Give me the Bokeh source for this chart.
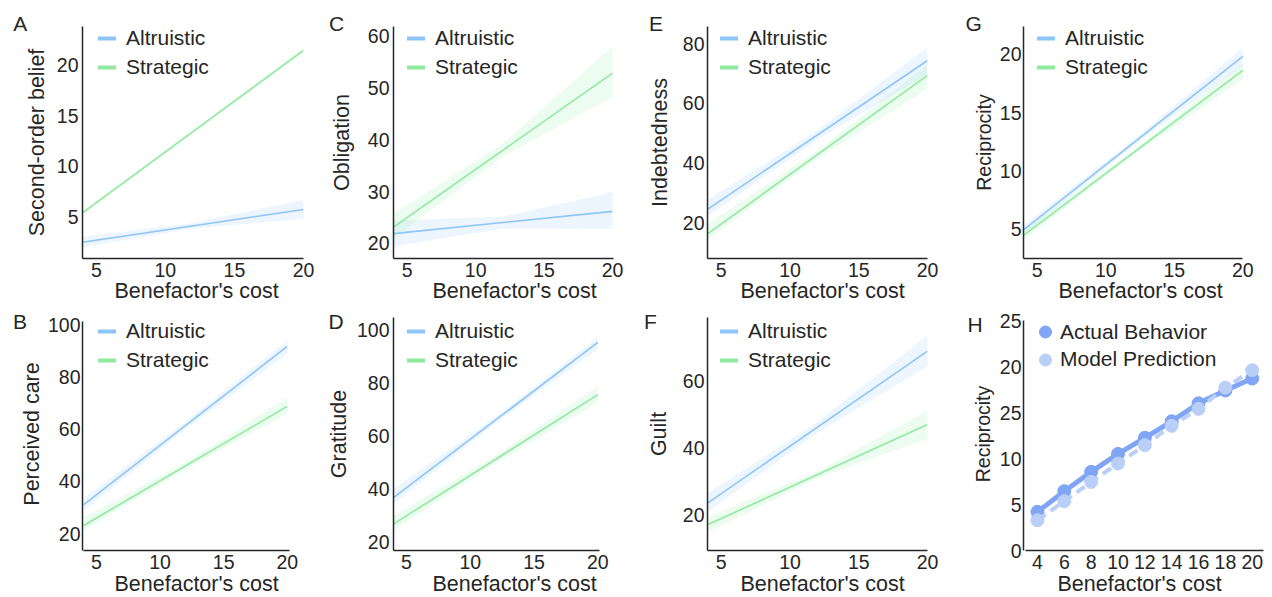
from math import pi
from bokeh.plotting import figure
from bokeh.layouts import row, column
from bokeh.models import Legend, LegendItem, FixedTicker, Range1d, Title
from bokeh.embed import file_html
from bokeh.resources import INLINE

FONT = "Liberation Sans"
TXT = "#262626"
ALT_C = "#8ec4f8"
STR_C = "#8fea9f"
ACT_C = "#7fa5f4"
MOD_C = "#b9cff7"
NAN = float("nan")

# ---------------- data ----------------
conditions = ["Altruistic", "Strategic"]
cost_line = [4, 20]
cost_band = [4, 12, 20]

# A  Second-order belief
belief_alt = [2.45, 5.70]
belief_alt_lo = [1.95, 3.80, 4.77]
belief_alt_hi = [3.00, 4.35, 6.66]
belief_str = [5.37, 21.50]
belief_str_lo = [5.20, 13.33, 21.30]
belief_str_hi = [5.55, 13.55, 21.72]

# C  Obligation
obl_alt = [21.9, 26.2]
obl_alt_lo = [19.4, 22.9, 22.8]
obl_alt_hi = [24.4, 25.2, 29.9]
obl_str = [23.15, 52.9]
obl_str_lo = [21.0, 36.8, 48.3]
obl_str_hi = [25.8, 39.3, 58.1]

# E  Indebtedness
ind_alt = [24.5, 74.4]
ind_alt_lo = [22.1, 47.9, 69.7]
ind_alt_hi = [27.7, 51.0, 78.9]
ind_str = [16.3, 69.4]
ind_str_lo = [14.3, 41.5, 64.9]
ind_str_hi = [19.7, 44.2, 73.1]

# G  Reciprocity
rec_alt = [4.97, 19.83]
rec_alt_lo = [4.57, 12.15, 19.06]
rec_alt_hi = [5.37, 12.65, 20.60]
rec_str = [4.49, 18.63]
rec_str_lo = [4.10, 11.33, 17.90]
rec_str_hi = [4.90, 11.80, 19.25]

# B  Perceived care
care_alt = [31.2, 91.6]
care_alt_lo = [28.8, 60.0, 88.8]
care_alt_hi = [33.7, 62.8, 93.9]
care_str = [23.2, 68.7]
care_str_lo = [21.3, 44.7, 66.0]
care_str_hi = [26.3, 47.2, 72.1]

# D  Gratitude
grat_alt = [36.9, 95.3]
grat_alt_lo = [34.5, 64.9, 92.8]
grat_alt_hi = [40.1, 67.3, 97.2]
grat_str = [26.9, 75.6]
grat_str_lo = [24.4, 49.9, 72.7]
grat_str_hi = [30.1, 52.6, 79.0]

# F  Guilt
guilt_alt = [23.5, 69.1]
guilt_alt_lo = [20.8, 44.7, 64.5]
guilt_alt_hi = [26.3, 47.9, 73.8]
guilt_str = [17.0, 47.1]
guilt_str_lo = [14.8, 31.0, 42.8]
guilt_str_hi = [19.3, 33.1, 51.3]

# H  Actual behaviour vs model prediction
h_cost = [4, 6, 8, 10, 12, 14, 16, 18, 20]
actual = [4.2, 6.45, 8.55, 10.5, 12.25, 14.05, 16.0, 17.4, 18.7]
actual_err = [0.5, 0.5, 0.5, 0.55, 0.55, 0.55, 0.6, 0.6, 0.65]
model = [3.3, 5.36, 7.46, 9.46, 11.45, 13.55, 15.4, 17.7, 19.6]
model_err = [0.4, 0.4, 0.45, 0.45, 0.45, 0.5, 0.5, 0.5, 0.55]
h_series = ["Actual Behavior", "Model Prediction"]

# ticks
ticks_cost = [5, 10, 15, 20]
ticks_belief = [5, 10, 15, 20]
ticks_obl = [20, 30, 40, 50, 60]
ticks_ind = [20, 40, 60, 80]
ticks_rec = [5, 10, 15, 20]
ticks_care = [20, 40, 60, 80, 100]
ticks_grat = [20, 40, 60, 80, 100]
ticks_guilt = [20, 40, 60]
ticks_h_x = [4, 6, 8, 10, 12, 14, 16, 18, 20]
ticks_h_y = [0, 5, 10, 15, 20, 25]
h_y_overrides = {15: "25"}

# ---------------- layout (page pixels) ----------------
# columns: (x0, width, frame_left, frame_right)
COLS = [(0, 316, 82, 303), (316, 318, 393, 613), (634, 316, 707, 927), (950, 322, 1023, 1263)]
# rows: (y0, height, frame_top, frame_bottom, xlabel standoff)
ROWS = [(0, 305, 26, 258, -2), (305, 292, 317, 550, 0)]


def make_fig(ci, ri, xr, yr, xticks, yticks, xbounds, ybounds, ystand, ylabel,
             ylabel_size, ylabel_stand):
    x0, w, fl, fr = COLS[ci]
    y0, h, ft, fb, _ = ROWS[ri]
    p = figure(width=w, height=h, x_range=Range1d(*xr), y_range=Range1d(*yr),
               min_border_left=fl - x0, min_border_right=x0 + w - fr,
               min_border_top=ft - y0, min_border_bottom=y0 + h - fb,
               output_backend="svg", toolbar_location=None)
    p.outline_line_color = None
    p.grid.visible = False
    for ax in (p.xaxis[0], p.yaxis[0]):
        ax.axis_line_color = TXT
        ax.axis_line_width = 1.5
        ax.major_tick_line_color = None
        ax.minor_tick_line_color = None
        ax.major_tick_out = 0
        ax.major_tick_in = 0
        ax.minor_tick_out = 0
        ax.minor_tick_in = 0
        ax.major_label_text_font = FONT
        ax.major_label_text_font_size = "19.5px"
        ax.major_label_text_color = TXT
    p.xaxis[0].major_label_standoff = 4
    p.yaxis[0].major_label_standoff = ystand
    p.xaxis[0].ticker = FixedTicker(ticks=xticks)
    p.yaxis[0].ticker = FixedTicker(ticks=yticks)
    p.xaxis[0].bounds = xbounds
    p.yaxis[0].bounds = ybounds
    yax = p.yaxis[0]
    yax.axis_label = ylabel
    yax.axis_label_text_font = FONT
    yax.axis_label_text_font_size = ylabel_size
    yax.axis_label_text_font_style = "normal"
    yax.axis_label_text_color = TXT
    yax.axis_label_standoff = ylabel_stand
    return p


def add_letter(p, letter, offset, standoff):
    p.add_layout(Title(text=letter, align="left", offset=offset, standoff=standoff,
                       vertical_align="bottom", text_font=FONT, text_font_size="21px",
                       text_font_style="normal", text_color=TXT), "above")


def add_xlabel(p, ri, offset):
    p.add_layout(Title(text="Benefactor's cost", align="left", offset=offset,
                       standoff=ROWS[ri][4], vertical_align="top", text_font=FONT,
                       text_font_size="21.5px", text_font_style="normal",
                       text_color=TXT), "below")


def reg_panel(ci, ri, xr, yr, yticks, xbounds, ybounds, ystand,
              alt, alt_lo, alt_hi, st, st_lo, st_hi,
              letter, letter_off, letter_stand, ylabel, ylabel_size, ylabel_stand,
              xlabel_off, leg_dx, leg_top):
    p = make_fig(ci, ri, xr, yr, ticks_cost, yticks, xbounds, ybounds, ystand,
                 ylabel, ylabel_size, ylabel_stand)
    p.varea(x=cost_band, y1=alt_lo, y2=alt_hi, fill_color=ALT_C, fill_alpha=0.16)
    p.line(x=cost_line, y=alt, line_color=ALT_C, line_width=1.6)
    p.varea(x=cost_band, y1=st_lo, y2=st_hi, fill_color=STR_C, fill_alpha=0.16)
    p.line(x=cost_line, y=st, line_color=STR_C, line_width=1.6)
    # legend proxies (thicker lines, like the reference legend); NaN draws nothing
    g1 = p.line(x=[NAN], y=[NAN], line_color=ALT_C, line_width=4, line_cap="round")
    g2 = p.line(x=[NAN], y=[NAN], line_color=STR_C, line_width=4, line_cap="round")
    fh = ROWS[ri][3] - ROWS[ri][2]
    leg = Legend(items=[LegendItem(label=conditions[0], renderers=[g1]),
                        LegendItem(label=conditions[1], renderers=[g2])],
                 location=(leg_dx + 2, fh - leg_top - 53),
                 padding=0, margin=0, spacing=5, glyph_width=18, glyph_height=24,
                 label_height=24, label_standoff=10,
                 label_text_font=FONT, label_text_font_size="21px",
                 label_text_color=TXT, border_line_color=None,
                 background_fill_alpha=0)
    p.add_layout(leg)
    add_letter(p, letter, letter_off, letter_stand)
    add_xlabel(p, ri, xlabel_off)
    return p


pA = reg_panel(0, 0, (4, 20), (0.83, 23.87), ticks_belief, (4, 20), (0.83, 23.87), 4,
               belief_alt, belief_alt_lo, belief_alt_hi,
               belief_str, belief_str_lo, belief_str_hi,
               "A", -69.3, -16, "Second-order belief", "21.5px", 5,
               32, 14, 0)
pC = reg_panel(1, 0, (4, 20.07), (17.1, 61.9), ticks_obl, (4, 20.07), (17.1, 61.9), 4,
               obl_alt, obl_alt_lo, obl_alt_hi, obl_str, obl_str_lo, obl_str_hi,
               "C", -64.5, -17, "Obligation", "21.5px", 11,
               39, 12, 0)
pE = reg_panel(2, 0, (4, 20), (8.03, 85.8), ticks_ind, (4, 20), (8.03, 85.8), 3,
               ind_alt, ind_alt_lo, ind_alt_hi, ind_str, ind_str_lo, ind_str_hi,
               "E", -58.5, -17, "Indebtedness", "21.5px", 8,
               33, 11, 0)
pG = reg_panel(3, 0, (4, 21.51), (2.51, 22.4), ticks_rec, (4, 20), (2.51, 22.4), 2,
               rec_alt, rec_alt_lo, rec_alt_hi, rec_str, rec_str_lo, rec_str_hi,
               "G", -58, -17, "Reciprocity", "19.5px", 2,
               35, 12, 0)
pB = reg_panel(0, 1, (3.90, 21.28), (13.62, 102.68), ticks_care, (4, 20.18), (13.62, 101.3), 2,
               care_alt, care_alt_lo, care_alt_hi, care_str, care_str_lo, care_str_hi,
               "B", -69.5, -30, "Perceived care", "21.5px", 1,
               32, 14, 1.7)
pD = reg_panel(1, 1, (3.98, 21.23), (16.87, 104.7), ticks_grat, (4, 20.13), (16.87, 104.7), 4,
               grat_alt, grat_alt_lo, grat_alt_hi, grat_str, grat_str_lo, grat_str_hi,
               "D", -65, -30, "Gratitude", "21.5px", 3,
               39, 12, 1.7)
pF = reg_panel(2, 1, (4, 20), (9.29, 79.2), ticks_guilt, (4, 20), (9.29, 79.2), 3,
               guilt_alt, guilt_alt_lo, guilt_alt_hi, guilt_str, guilt_str_lo, guilt_str_hi,
               "F", -63.5, -30, "Guilt", "21.5px", 9,
               33, 11, 1.7)

# ---- panel H ----
pH = make_fig(3, 1, (2.96, 20.84), (0, 25.33), ticks_h_x, ticks_h_y, (3.1, 20.84), (0, 25),
              2, "Reciprocity", "19.5px", 3)
pH.yaxis[0].major_label_overrides = h_y_overrides
act_lo = [m - e for m, e in zip(actual, actual_err)]
act_hi = [m + e for m, e in zip(actual, actual_err)]
mod_lo = [m - e for m, e in zip(model, model_err)]
mod_hi = [m + e for m, e in zip(model, model_err)]
pH.line(x=h_cost, y=actual, line_color=ACT_C, line_width=5)
pH.segment(x0=h_cost, y0=act_lo, x1=h_cost, y1=act_hi, line_color=ACT_C, line_width=5)
s_act = pH.scatter(x=h_cost, y=actual, size=13, fill_color=ACT_C, line_color=ACT_C)
pH.line(x=h_cost, y=model, line_color=MOD_C, line_width=4, line_dash="10 6")
pH.segment(x0=h_cost, y0=mod_lo, x1=h_cost, y1=mod_hi, line_color=MOD_C, line_width=5)
s_mod = pH.scatter(x=h_cost, y=model, size=13, fill_color=MOD_C, line_color=MOD_C)
fhH = ROWS[1][3] - ROWS[1][2]
for item_label, rend, top_off in ((h_series[0], s_act, -1.8), (h_series[1], s_mod, 25.8)):
    lg = Legend(items=[LegendItem(label=item_label, renderers=[rend])],
                location=(7, fhH - top_off - 33), padding=0, margin=0,
                glyph_width=30, glyph_height=33, label_height=33, label_standoff=0,
                label_text_font=FONT, label_text_font_size="21px",
                label_text_color=TXT, border_line_color=None,
                background_fill_alpha=0)
    pH.add_layout(lg)
add_letter(pH, "H", -56, -36)
add_xlabel(pH, 1, 34)

layout = row(column(pA, pB), column(pC, pD), column(pE, pF), column(pG, pH))
open("out.html", "w").write(file_html(layout, INLINE))
